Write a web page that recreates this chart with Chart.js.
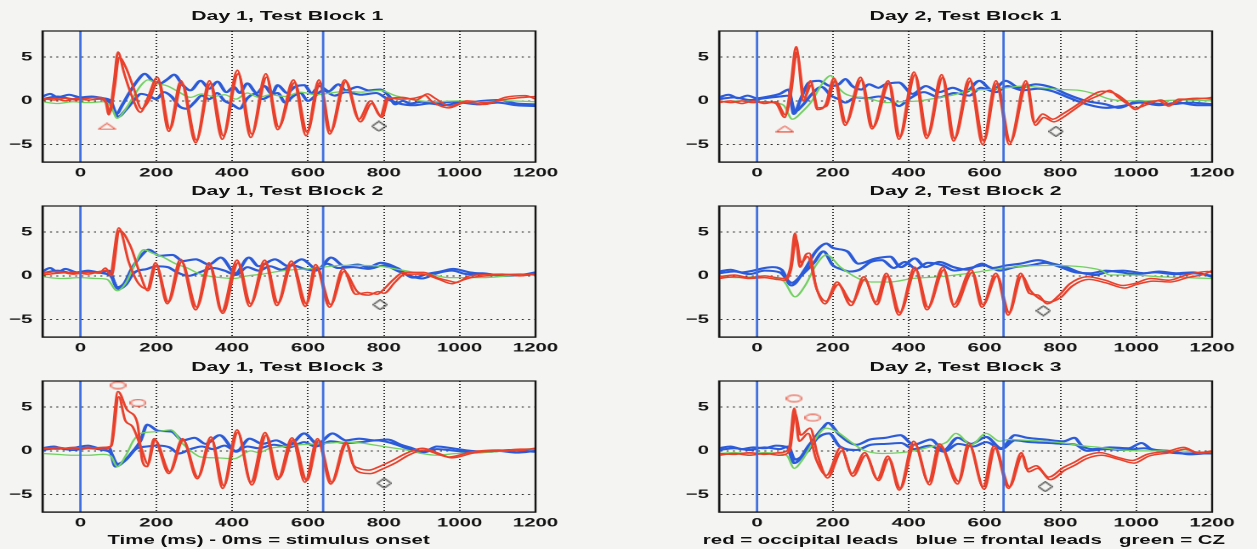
<!DOCTYPE html>
<html>
<head>
<meta charset="utf-8">
<script src="https://cdn.jsdelivr.net/npm/chart.js@4.4.1/dist/chart.umd.min.js"></script>
<style>
  html, body { margin: 0; padding: 0; background: #f4f4f2; }
  /* the scanned figure is stretched sideways, so the whole figure is drawn narrow and widened */
  #fig { position: absolute; left: 0; top: 0; width: 740px; height: 549px; transform: scaleX(1.7); transform-origin: 0 0; }
  #fig canvas { position: absolute; }
  .ttl { position: absolute; font: bold 12.5px "Liberation Sans", Arial, sans-serif; color: #111; white-space: pre; transform: translate(-50%, -50%); }
  .cap { font-size: 12px; }
</style>
</head>
<body>
<div id="fig"></div>
<script>
const X_TICKS = [0, 200, 400, 600, 800, 1000, 1200];
const Y_TICKS = [-5, 0, 5];
const STIM_DAY1 = [0, 640];
const STIM_DAY2 = [0, 650];

// --- Day 1, Test Block 1 ---
const d1b1RedA = [[-100,0.3],[-70,0.1],[-40,0.3],[-10,0.1],[20,0.3],[50,0.4],[65,0.1],[75,-1.6],[88,2.0],[99,5.6],[115,3.2],[135,0.6],[158,-1.3],[178,0.4],[203,2.7],[233,-3.5],[265,2.3],[304,-4.8],[340,2.3],[374,-4.4],[414,3.5],[449,-4.2],[489,3.1],[520,-3.3],[562,2.4],[595,-4.0],[629,2.4],[657,-3.8],[697,2.4],[734,-2.1],[765,0.0],[791,-1.7],[809,0.4],[840,0.2],[880,0.3],[910,0.6],[925,0.0],[971,-0.8],[1015,-0.2],[1068,-0.4],[1120,0.4],[1173,0.6],[1200,0.2]];
const d1b1RedB = [[-100,0.1],[-70,0.3],[-40,0.0],[-10,0.3],[20,0.1],[50,0.2],[68,-0.2],[78,-1.3],[90,1.5],[102,5.0],[120,3.8],[140,1.5],[161,-0.9],[180,0.0],[206,2.3],[236,-3.2],[268,2.0],[306,-4.5],[343,2.0],[377,-4.0],[416,3.1],[452,-3.8],[491,2.7],[523,-3.0],[565,2.1],[598,-3.6],[632,2.1],[660,-3.5],[700,2.2],[738,-2.4],[768,-0.3],[795,-1.9],[812,0.2],[850,0.4],[885,0.1],[915,0.8],[935,0.3],[975,-0.6],[1020,0.0],[1070,-0.2],[1125,0.2],[1170,0.4],[1200,0.5]];
const d1b1BlueA = [[-100,0.5],[-80,0.8],[-60,0.4],[-30,0.7],[0,0.4],[30,0.5],[60,0.3],[80,0.0],[95,-1.5],[110,-0.5],[130,1.0],[150,2.3],[170,3.1],[190,2.3],[210,2.0],[230,2.5],[247,3.0],[270,1.8],[290,1.2],[317,2.3],[340,1.4],[361,2.2],[385,1.0],[405,1.6],[420,0.9],[440,2.0],[465,0.9],[485,1.7],[505,0.8],[520,1.8],[545,0.9],[565,1.6],[590,1.8],[610,0.9],[630,1.7],[655,1.1],[680,1.9],[700,1.2],[730,1.6],[760,1.2],[790,1.3],[815,0.5],[830,-0.4],[850,0.0],[870,-0.3],[900,-0.1],[940,-0.3],[980,-0.1],[1020,-0.2],[1060,0.0],[1100,0.1],[1150,-0.3],[1200,-0.4]];
const d1b1BlueB = [[-100,0.2],[-60,0.5],[-20,0.2],[20,0.4],[60,0.2],[80,-0.3],[100,-1.8],[120,-1.0],[140,0.0],[160,0.8],[180,0.6],[200,0.2],[220,1.0],[240,0.5],[260,-0.6],[280,-0.9],[300,-0.2],[320,0.6],[340,0.2],[360,0.9],[380,0.0],[400,-0.4],[420,-0.9],[440,0.3],[460,0.8],[480,0.2],[500,0.6],[520,0.9],[540,-0.2],[560,0.5],[580,0.9],[600,0.0],[620,0.6],[640,1.2],[670,0.6],[700,1.0],[740,0.7],[780,0.9],[810,0.2],[840,-0.3],[880,-0.5],[920,-0.3],[960,-0.5],[1000,-0.2],[1050,-0.4],[1100,-0.2],[1150,-0.5],[1200,-0.6]];
const d1b1Green = [[-100,-0.1],[-60,-0.3],[-20,-0.1],[20,-0.2],[60,-0.1],[80,-0.6],[97,-2.0],[115,-1.2],[140,0.5],[160,1.8],[178,2.4],[200,2.0],[230,1.7],[260,1.0],[290,0.4],[320,0.8],[350,0.5],[380,0.7],[410,0.2],[440,0.9],[470,0.4],[500,0.7],[540,0.5],[580,1.0],[620,0.7],[660,0.9],[700,1.1],[740,1.0],[790,1.2],[830,0.6],[880,0.1],[930,-0.1],[1000,0.0],[1060,-0.1],[1120,0.0],[1200,-0.1]];
const d1b1Tri = [[70,-2.9]];
const d1b1Dia = [[787,-2.9]];

// --- Day 1, Test Block 2 ---
const d1b2RedA = [[-100,0.3],[-60,0.5],[-20,0.2],[20,0.4],[50,0.3],[66,0.9],[78,0.2],[101,5.5],[128,1.5],[152,-0.8],[176,-1.5],[198,1.5],[229,-3.2],[264,1.9],[304,-3.9],[339,1.5],[372,-4.1],[413,1.8],[446,-3.5],[486,1.8],[518,-3.4],[556,1.7],[593,-3.5],[620,1.3],[657,-3.6],[692,0.8],[726,-2.1],[757,-1.9],[783,-2.1],[796,-1.7],[826,-0.4],[852,0.4],[905,0.4],[940,-0.2],[974,-0.6],[992,-0.75],[1026,0.0],[1113,0.2],[1160,0.0],[1200,0.2]];
const d1b2RedB = [[-100,0.1],[-60,0.3],[-20,0.4],[20,0.2],[50,0.5],[68,0.6],[82,0.0],[103,5.2],[132,3.4],[155,0.5],[178,-1.7],[200,1.2],[232,-3.0],[267,1.6],[307,-3.6],[342,1.2],[375,-4.3],[416,1.5],[449,-3.2],[489,1.5],[521,-3.1],[559,1.4],[596,-3.2],[623,1.0],[660,-3.3],[695,0.5],[730,-1.8],[760,-2.2],[786,-1.8],[800,-2.0],[830,-0.7],[856,0.2],[900,0.2],[945,-0.4],[980,-0.9],[1000,-0.6],[1030,-0.2],[1100,0.1],[1160,0.2],[1200,0.1]];
const d1b2BlueA = [[-100,0.5],[-80,0.9],[-60,0.4],[-40,0.8],[-10,0.4],[20,0.6],[50,0.4],[75,0.6],[97,-1.3],[115,-0.9],[135,0.8],[160,2.3],[180,3.0],[209,2.3],[243,2.4],[270,1.7],[304,1.9],[339,1.3],[370,2.1],[409,0.3],[444,2.1],[470,1.1],[513,1.9],[548,1.1],[583,1.9],[626,0.7],[661,2.1],[696,1.1],[731,1.3],[760,1.0],[792,1.5],[835,0.9],[878,-0.2],[913,0.2],[950,0.5],[983,0.8],[1026,0.4],[1079,0.2],[1120,0.0],[1160,0.1],[1200,0.4]];
const d1b2BlueB = [[-100,0.3],[-60,0.6],[-20,0.3],[20,0.5],[60,0.3],[80,0.0],[100,-1.5],[120,-1.0],[140,0.3],[176,0.8],[200,1.1],[230,1.0],[255,0.4],[285,0.0],[320,0.5],[350,0.9],[380,0.6],[410,0.1],[440,1.0],[470,0.6],[500,1.1],[530,0.7],[560,1.2],[590,0.8],[620,0.6],[650,1.4],[680,0.9],[720,1.0],[760,0.8],[800,1.2],[840,0.5],[870,0.0],[900,-0.3],[940,0.3],[980,0.6],[1020,0.2],[1060,0.3],[1110,0.0],[1160,0.1],[1200,0.2]];
const d1b2Green = [[-100,-0.1],[-50,-0.3],[0,-0.2],[40,-0.3],[70,-0.4],[97,-1.7],[120,-0.8],[145,1.5],[167,3.0],[190,2.6],[220,2.1],[250,1.4],[282,0.9],[310,0.3],[335,0.0],[370,-0.2],[405,-0.3],[440,0.0],[480,0.2],[520,0.5],[560,0.7],[600,0.8],[640,1.0],[690,1.2],[740,1.2],[790,1.1],[830,0.8],[880,0.4],[930,0.1],[970,-0.2],[1060,-0.2],[1130,0.0],[1200,0.2]];
const d1b2Dia = [[790,-3.3]];

// --- Day 1, Test Block 3 ---
const d1b3RedA = [[-100,0.3],[-60,0.2],[-20,0.4],[20,0.3],[60,0.4],[79,0.5],[99,6.8],[123,4.7],[150,3.2],[163,-1.1],[176,-1.8],[194,1.4],[233,-2.6],[269,1.4],[308,-3.2],[344,1.6],[375,-4.3],[413,2.4],[449,-3.6],[487,2.1],[520,-3.3],[558,1.5],[592,-3.6],[625,1.4],[660,-3.8],[700,1.0],[718,-1.5],[735,-2.0],[761,-2.2],[788,-1.8],[823,-1.1],[858,-0.3],[902,0.3],[946,-0.3],[972,-0.7],[1033,-0.1],[1103,0.1],[1150,0.0],[1200,0.3]];
const d1b3RedB = [[-100,0.2],[-60,0.4],[-20,0.2],[20,0.4],[60,0.2],[82,0.6],[101,6.2],[118,3.5],[137,2.8],[159,0.5],[178,-1.5],[197,1.2],[236,-2.4],[271,1.2],[310,-3.0],[346,1.3],[378,-4.0],[415,2.1],[452,-3.9],[490,1.8],[524,-3.1],[562,1.3],[597,-3.4],[628,1.2],[663,-3.6],[702,0.8],[722,-1.9],[740,-2.5],[765,-2.6],[795,-2.1],[830,-1.4],[865,-0.5],[905,0.1],[950,-0.5],[980,-0.8],[1040,-0.2],[1110,0.0],[1160,0.2],[1200,0.2]];
const d1b3BlueA = [[-100,0.3],[-70,0.5],[-40,0.2],[-10,0.4],[20,0.6],[50,0.3],[75,0.4],[92,-1.8],[115,-1.2],[140,0.0],[159,1.2],[176,3.0],[205,2.3],[240,2.2],[270,1.2],[301,1.5],[330,0.8],[367,1.8],[411,-0.1],[446,1.4],[480,0.8],[516,1.2],[550,0.6],[590,2.0],[625,0.8],[665,2.0],[700,1.2],[735,1.4],[775,1.2],[810,1.3],[845,0.7],[875,0.3],[905,-0.1],[940,0.5],[980,0.3],[1030,0.0],[1080,-0.1],[1130,0.1],[1200,-0.1]];
const d1b3BlueB = [[-100,0.1],[-60,0.3],[-20,0.1],[20,0.3],[60,0.1],[80,-0.2],[97,-1.5],[120,-1.0],[145,0.2],[175,0.5],[205,0.6],[235,0.4],[260,-0.3],[290,0.2],[320,0.5],[350,0.2],[380,0.6],[410,0.0],[440,0.5],[470,0.3],[510,0.7],[550,0.4],[590,1.0],[620,0.5],[660,1.1],[700,0.9],[740,1.0],[780,1.2],[820,0.9],[860,0.3],[900,-0.2],[940,0.2],[990,0.0],[1040,-0.2],[1100,0.0],[1150,-0.2],[1200,0.0]];
const d1b3Green = [[-100,-0.3],[-60,-0.4],[-20,-0.5],[20,-0.5],[60,-0.4],[80,-0.6],[97,-1.8],[120,-0.5],[140,1.2],[159,2.0],[203,2.2],[238,2.4],[270,0.8],[300,-0.3],[317,-0.7],[360,-0.8],[405,-0.9],[449,0.0],[470,-0.2],[500,0.3],[540,0.5],[580,0.7],[620,0.8],[660,0.9],[700,1.0],[740,0.9],[785,0.6],[830,0.3],[860,0.1],[900,-0.3],[940,-0.5],[990,-0.3],[1060,-0.2],[1120,0.0],[1200,0.3]];
const d1b3Ell = [[99,7.5],[152,5.5]];
const d1b3Dia = [[801,-3.7]];

// --- Day 2, Test Block 1 ---
const d2b1RedA = [[-100,0.0],[-70,-0.2],[-40,0.0],[-10,-0.2],[20,-0.1],[50,-0.3],[73,-1.9],[88,1.5],[103,6.2],[123,0.0],[141,2.3],[159,-1.0],[181,-0.4],[203,2.6],[232,-2.8],[273,2.7],[303,-3.2],[346,2.3],[374,-4.4],[414,3.3],[447,-4.3],[487,3.0],[518,-4.6],[560,2.6],[595,-5.0],[630,2.3],[665,-5.0],[709,2.3],[731,-2.5],[753,-1.5],[780,-2.1],[806,-1.5],[832,-0.8],[867,0.2],[911,1.1],[946,0.8],[972,0.0],[998,-1.0],[1024,-0.2],[1059,0.0],[1086,-0.6],[1112,0.2],[1147,0.2],[1182,0.3],[1200,0.4]];
const d2b1RedB = [[-100,-0.2],[-70,0.0],[-40,-0.3],[-10,0.0],[20,-0.3],[50,-0.1],[75,-1.6],[90,1.0],[105,5.6],[125,0.4],[143,1.8],[161,-0.8],[183,-0.6],[206,2.3],[235,-2.5],[276,2.4],[306,-3.0],[349,2.0],[377,-4.1],[417,3.0],[450,-4.0],[490,2.7],[521,-4.3],[563,2.3],[598,-4.6],[633,2.0],[668,-4.7],[712,2.0],[734,-2.8],[756,-1.9],[783,-2.4],[810,-1.8],[836,-1.0],[870,0.0],[905,0.7],[930,1.2],[950,0.5],[975,-0.3],[1000,-0.8],[1030,-0.4],[1065,0.1],[1090,-0.4],[1120,0.1],[1160,0.3],[1200,0.2]];
const d2b1BlueA = [[-100,0.4],[-75,0.7],[-50,0.3],[-25,0.6],[0,0.3],[30,0.5],[60,0.8],[84,1.3],[97,-1.5],[115,0.2],[137,2.1],[163,2.3],[194,1.7],[216,1.9],[233,2.5],[251,1.7],[275,1.3],[295,1.9],[320,1.5],[339,1.9],[374,2.1],[410,0.8],[445,1.7],[480,1.0],[516,1.5],[550,1.0],[586,2.3],[621,1.2],[656,2.3],[691,1.5],[735,1.9],[780,1.5],[815,0.8],[867,0.0],[920,-0.4],[955,-0.8],[1006,0.0],[1050,-0.3],[1090,-0.4],[1140,-0.2],[1180,-0.3],[1200,-0.4]];
const d2b1BlueB = [[-100,0.2],[-60,0.4],[-20,0.1],[20,0.3],[60,0.5],[85,0.6],[100,-1.2],[120,-0.5],[145,0.8],[170,1.6],[195,0.6],[215,0.2],[233,-0.2],[260,0.4],[290,0.3],[320,0.5],[350,0.2],[374,-0.6],[400,0.2],[440,1.0],[480,0.4],[520,0.9],[560,0.6],[590,1.5],[630,1.0],[660,1.7],[700,1.2],[740,1.4],[780,1.1],[820,0.4],[870,-0.4],[920,-0.8],[960,-0.6],[1010,-0.2],[1060,-0.5],[1110,-0.2],[1160,-0.5],[1200,-0.5]];
const d2b1Green = [[-100,-0.1],[-50,0.0],[0,-0.1],[40,-0.2],[70,-0.5],[93,-2.1],[120,-1.2],[145,0.0],[165,1.5],[181,2.5],[194,2.9],[215,1.5],[233,0.8],[270,0.4],[300,0.2],[340,-0.2],[380,-0.1],[428,0.0],[470,0.3],[520,0.7],[560,1.2],[610,1.3],[660,1.5],[700,1.7],[750,1.5],[800,1.3],[850,1.2],[890,0.8],[930,0.2],[980,0.0],[1050,0.0],[1120,0.1],[1200,0.0]];
const d2b1Tri = [[73,-3.2]];
const d2b1Dia = [[788,-3.5]];

// --- Day 2, Test Block 2 ---
const d2b2RedA = [[-100,-0.1],[-60,0.1],[-20,-0.2],[20,0.0],[50,-0.2],[72,-0.3],[88,1.0],[100,4.9],[113,1.0],[130,2.5],[138,2.6],[155,-1.1],[179,-3.2],[211,-0.7],[248,-3.4],[281,-0.1],[313,-3.0],[341,0.3],[374,-4.5],[416,1.0],[448,-3.9],[490,1.0],[518,-3.3],[565,0.7],[593,-3.6],[630,0.3],[662,-4.5],[695,0.3],[718,-2.0],[741,-2.2],[765,-3.2],[797,-2.2],[825,-0.9],[872,-0.1],[918,-0.5],[965,-1.1],[993,-0.9],[1039,-0.3],[1086,-0.5],[1132,0.1],[1188,0.5],[1200,0.4]];
const d2b2RedB = [[-100,-0.3],[-60,-0.1],[-20,-0.3],[20,-0.2],[50,-0.4],[75,-0.5],[90,0.8],[103,4.2],[116,1.5],[133,2.2],[158,-1.6],[182,-2.9],[214,-1.0],[251,-3.0],[284,-0.4],[316,-3.3],[344,0.0],[377,-4.2],[419,0.7],[451,-3.6],[493,0.7],[521,-3.6],[568,0.4],[596,-3.3],[633,0.0],[665,-4.2],[698,0.0],[721,-1.7],[744,-2.6],[770,-3.0],[800,-2.5],[830,-1.2],[875,-0.4],[920,-0.8],[970,-1.4],[1000,-1.0],[1045,-0.6],[1090,-0.7],[1135,-0.2],[1180,0.2],[1200,0.6]];
const d2b2BlueA = [[-100,0.5],[-70,0.7],[-40,0.4],[-10,0.6],[20,0.9],[40,1.0],[65,0.7],[90,-1.1],[127,0.8],[155,2.8],[183,3.7],[200,3.2],[238,2.8],[267,1.4],[314,2.0],[351,2.2],[379,1.0],[416,2.0],[444,1.0],[481,1.6],[518,1.0],[555,0.7],[593,1.4],[620,0.9],[658,1.2],[695,1.4],[741,1.8],[779,1.4],[816,1.0],[844,0.5],[890,0.1],[928,0.5],[965,0.6],[1020,0.3],[1060,0.5],[1105,0.3],[1150,0.4],[1200,-0.1]];
const d2b2BlueB = [[-100,0.3],[-60,0.5],[-20,0.2],[20,0.6],[60,0.4],[92,-0.8],[120,0.2],[150,1.5],[175,2.8],[200,1.2],[220,0.8],[245,0.5],[270,0.7],[300,1.6],[330,1.8],[360,0.9],[390,1.6],[420,0.8],[450,1.5],[490,1.2],[520,0.6],[560,0.9],[600,1.2],[640,0.6],[680,1.0],[720,1.2],[760,1.5],[800,1.0],[840,0.4],[880,0.3],[920,0.6],[960,0.4],[1000,0.2],[1050,0.4],[1100,0.2],[1150,0.3],[1200,0.0]];
const d2b2Green = [[-100,-0.1],[-50,-0.2],[0,-0.1],[40,-0.3],[70,-0.6],[100,-2.4],[127,-1.1],[155,1.2],[183,2.4],[220,1.0],[267,-0.3],[300,-0.7],[350,-0.7],[410,-0.3],[480,-0.1],[560,0.3],[620,0.7],[700,1.1],[780,1.2],[840,1.1],[880,0.9],[910,0.6],[930,0.1],[990,0.1],[1060,-0.1],[1130,-0.2],[1200,-0.3]];
const d2b2Dia = [[755,-4.0]];

// --- Day 2, Test Block 3 ---
const d2b3RedA = [[-100,-0.3],[-60,-0.4],[-20,-0.2],[20,-0.4],[60,-0.2],[84,0.2],[98,4.9],[111,1.1],[135,2.0],[156,-1.0],[183,-2.8],[221,0.4],[250,-2.6],[284,-0.2],[317,-3.2],[345,-0.6],[375,-4.5],[413,1.1],[452,-3.6],[481,0.8],[529,-3.8],[558,0.9],[596,-4.1],[625,0.6],[663,-4.3],[697,-0.2],[712,-2.1],[736,-1.7],[769,-3.0],[808,-1.9],[837,-1.3],[865,-0.6],[904,-0.2],[952,-0.75],[990,-1.1],[1029,-0.4],[1087,0.0],[1125,0.4],[1163,-0.2],[1200,0.0]];
const d2b3RedB = [[-100,-0.5],[-60,-0.3],[-20,-0.5],[20,-0.3],[60,-0.5],[86,0.0],[101,4.2],[115,1.8],[140,2.6],[160,-0.5],[186,-3.1],[224,0.0],[253,-2.9],[287,-0.5],[320,-3.4],[348,-0.9],[378,-4.3],[416,0.8],[455,-3.9],[484,0.5],[532,-3.5],[561,0.6],[599,-4.4],[628,0.3],[666,-4.1],[700,-0.5],[716,-2.4],[740,-2.0],[773,-3.3],[812,-2.2],[840,-1.6],[868,-0.9],[908,-0.5],[956,-1.0],[994,-1.4],[1033,-0.6],[1090,-0.2],[1130,0.2],[1165,-0.3],[1200,-0.1]];
const d2b3BlueA = [[-100,0.3],[-70,0.5],[-40,0.2],[-10,0.4],[20,0.3],[50,0.6],[80,0.4],[98,-1.4],[138,0.7],[173,2.6],[187,3.2],[218,1.8],[262,0.7],[298,1.3],[340,1.5],[378,1.8],[413,0.7],[458,1.3],[493,0.1],[529,1.5],[565,0.8],[604,1.6],[644,0.3],[680,1.8],[712,1.5],[760,1.3],[808,1.1],[837,1.5],[856,0.6],[885,0.2],[930,0.4],[980,0.3],[1014,0.9],[1040,0.2],[1087,0.0],[1140,-0.4],[1200,-0.2]];
const d2b3BlueB = [[-100,0.1],[-60,0.3],[-20,0.1],[20,0.4],[60,0.2],[82,0.5],[100,-1.0],[130,-0.2],[160,1.5],[190,2.0],[218,0.5],[262,0.1],[300,0.7],[340,0.8],[380,0.9],[413,0.2],[455,0.6],[493,-0.1],[530,0.8],[570,0.5],[605,1.0],[644,0.2],[680,1.2],[720,1.0],[770,0.9],[810,0.8],[840,0.7],[870,0.0],[920,0.2],[970,0.1],[1020,0.3],[1070,-0.1],[1130,-0.3],[1200,-0.3]];
const d2b3Green = [[-100,-0.3],[-60,-0.2],[-20,-0.3],[20,-0.2],[60,-0.3],[80,-0.6],[98,-2.0],[120,-1.0],[147,0.9],[182,2.6],[210,2.2],[245,1.1],[280,0.1],[330,-0.3],[380,-0.2],[413,0.0],[460,0.5],[500,1.0],[524,2.0],[565,0.7],[604,2.0],[640,1.1],[663,1.3],[712,1.2],[760,1.1],[808,0.9],[856,0.6],[904,0.4],[960,0.1],[1010,0.0],[1100,0.0],[1200,-0.2]];
const d2b3Ell = [[98,6.0],[147,3.8]];
const d2b3Dia = [[760,-4.1]];

// --- Colours / layout ---
const RED = '#e8412c';
const BLUE = '#2b5bd8';
const GREEN = '#72d062';
const STIM_BLUE = '#3f6fe0';
const INK = '#141414';
const FONT = 'Liberation Sans, Arial, sans-serif';

const COL_LEFT = [0, 398];          // canvas left (unstretched px)
const COL_TITLE_X = [169, 568];
const ROW_TOP = [30, 205, 380];     // plot area top
const ROW_TITLE_Y = [16, 191, 367];
const PLOT_H = 132;
const PAD_TOP = 4;
const PAD_RIGHT = 16;
const XAXIS_H = 26;
const YAXIS_W = 25;
const CANVAS_W = 331;

const PANELS = [
  { title: 'Day 1, Test Block 1', col: 0, row: 0, red: [d1b1RedA, d1b1RedB], blue: [d1b1BlueA, d1b1BlueB], green: d1b1Green, stim: STIM_DAY1, tri: d1b1Tri, dia: d1b1Dia },
  { title: 'Day 1, Test Block 2', col: 0, row: 1, red: [d1b2RedA, d1b2RedB], blue: [d1b2BlueA, d1b2BlueB], green: d1b2Green, stim: STIM_DAY1, dia: d1b2Dia },
  { title: 'Day 1, Test Block 3', col: 0, row: 2, red: [d1b3RedA, d1b3RedB], blue: [d1b3BlueA, d1b3BlueB], green: d1b3Green, stim: STIM_DAY1, ell: d1b3Ell, dia: d1b3Dia },
  { title: 'Day 2, Test Block 1', col: 1, row: 0, red: [d2b1RedA, d2b1RedB], blue: [d2b1BlueA, d2b1BlueB], green: d2b1Green, stim: STIM_DAY2, tri: d2b1Tri, dia: d2b1Dia },
  { title: 'Day 2, Test Block 2', col: 1, row: 1, red: [d2b2RedA, d2b2RedB], blue: [d2b2BlueA, d2b2BlueB], green: d2b2Green, stim: STIM_DAY2, dia: d2b2Dia },
  { title: 'Day 2, Test Block 3', col: 1, row: 2, red: [d2b3RedA, d2b3RedB], blue: [d2b3BlueA, d2b3BlueB], green: d2b3Green, stim: STIM_DAY2, ell: d2b3Ell, dia: d2b3Dia },
];

// --- Marker glyphs (outline triangle, diamond, ellipse) ---
function marker(kind, color) {
  const size = { tri: [11, 7], dia: [9, 11], ell: [10, 8] }[kind];
  const c = document.createElement('canvas');
  c.width = size[0]; c.height = size[1];
  const ctx = c.getContext('2d');
  const w = size[0], h = size[1];
  ctx.strokeStyle = color;
  ctx.lineWidth = 1;
  ctx.beginPath();
  if (kind === 'tri') {
    ctx.moveTo(w / 2, 0.5); ctx.lineTo(w - 0.5, h - 0.5); ctx.lineTo(0.5, h - 0.5); ctx.closePath();
  } else if (kind === 'dia') {
    ctx.moveTo(w / 2, 0.5); ctx.lineTo(w - 0.5, h / 2); ctx.lineTo(w / 2, h - 0.5); ctx.lineTo(0.5, h / 2); ctx.closePath();
  } else {
    ctx.ellipse(w / 2, h / 2, w / 2 - 0.7, h / 2 - 0.7, 0, 0, Math.PI * 2);
  }
  ctx.stroke();
  return c;
}
const TRI = marker('tri', RED);
const DIA = marker('dia', '#111');
const ELL = marker('ell', RED);

const toXY = (pts) => pts.map(([x, y]) => ({ x, y }));

function trace(pts, color, width) {
  return {
    data: toXY(pts), borderColor: color, borderWidth: width,
    pointRadius: 0, cubicInterpolationMode: 'monotone', fill: false,
  };
}

function markers(pts, style) {
  return { data: toXY(pts), showLine: false, pointStyle: style, pointRadius: 5, borderWidth: 0 };
}

// full box round the plot, like the MATLAB axes
const frame = {
  id: 'frame',
  afterDatasetsDraw(chart) {
    const { ctx, chartArea: a } = chart;
    ctx.save();
    ctx.strokeStyle = INK;
    ctx.lineWidth = 1.2;
    ctx.strokeRect(a.left, a.top, a.right - a.left, a.bottom - a.top);
    ctx.restore();
  },
};

const fig = document.getElementById('fig');

function addText(text, x, y, cls) {
  const el = document.createElement('div');
  el.className = 'ttl' + (cls ? ' ' + cls : '');
  el.style.left = x + 'px';
  el.style.top = y + 'px';
  el.textContent = text;
  fig.appendChild(el);
}

PANELS.forEach((p) => {
  const canvas = document.createElement('canvas');
  canvas.style.left = COL_LEFT[p.col] + 'px';
  canvas.style.top = (ROW_TOP[p.row] - PAD_TOP) + 'px';
  canvas.width = CANVAS_W;
  canvas.height = PAD_TOP + PLOT_H + XAXIS_H;
  fig.appendChild(canvas);

  addText(p.title, COL_TITLE_X[p.col], ROW_TITLE_Y[p.row]);

  // first dataset ends up on top
  const datasets = [];
  if (p.tri) datasets.push(markers(p.tri, TRI));
  if (p.ell) datasets.push(markers(p.ell, ELL));
  if (p.dia) datasets.push(markers(p.dia, DIA));
  p.stim.forEach((t) => datasets.push({
    data: [{ x: t, y: -7 }, { x: t, y: 8 }], borderColor: STIM_BLUE, borderWidth: 1.4, pointRadius: 0,
  }));
  p.red.forEach((s) => datasets.push(trace(s, RED, 1.5)));
  datasets.push(trace(p.green, GREEN, 1.3));
  p.blue.forEach((s) => datasets.push(trace(s, BLUE, 2.1)));

  const tickFont = { family: FONT, weight: 'bold', size: 12 };

  new Chart(canvas, {
    type: 'line',
    data: { datasets },
    options: {
      responsive: false,
      animation: false,
      devicePixelRatio: 2,
      layout: { padding: { top: PAD_TOP, right: PAD_RIGHT, left: 0, bottom: 0 } },
      plugins: { legend: { display: false }, tooltip: { enabled: false } },
      scales: {
        x: {
          type: 'linear', min: -100, max: 1200,
          afterBuildTicks: (s) => { s.ticks = X_TICKS.map((v) => ({ value: v })); },
          afterFit: (s) => { s.height = XAXIS_H; s.paddingLeft = 0; s.paddingRight = 0; },
          grid: { color: '#333', lineWidth: 1, drawTicks: false },
          border: { color: INK, width: 1.2, dash: [1, 2] },
          ticks: { color: INK, font: tickFont, padding: 4, maxRotation: 0, autoSkip: false, callback: (v) => String(v) },
        },
        y: {
          min: -7, max: 8,
          afterBuildTicks: (s) => { s.ticks = Y_TICKS.map((v) => ({ value: v })); },
          afterFit: (s) => { s.width = YAXIS_W; s.paddingTop = 0; s.paddingBottom = 0; },
          grid: { color: '#333', lineWidth: 1, drawTicks: false },
          border: { color: INK, width: 1.2, dash: [1.2, 2.5] },
          ticks: {
            color: INK, font: tickFont, padding: 6,
            callback: (v) => String(v).replace('-', '\u2212'),
          },
        },
      },
    },
    plugins: [frame],
  });
});

addText('Time (ms) - 0ms = stimulus onset', 158, 540, 'cap');
addText('red = occipital leads   blue = frontal leads   green = CZ', 567, 540, 'cap');
</script>
</body>
</html>
